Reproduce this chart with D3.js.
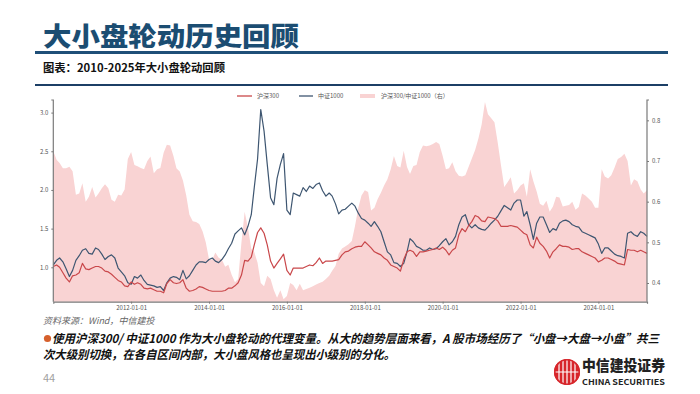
<!DOCTYPE html>
<html><head><meta charset="utf-8">
<script src="https://cdn.jsdelivr.net/npm/d3@7"></script>
<style>
html,body{margin:0;padding:0;background:#fff;}
svg{display:block;}
text{font-family:"Noto Sans CJK SC","Noto Sans",sans-serif;}
</style></head>
<body>
<svg id="c" width="700" height="394"></svg>
<script>
// ---------- data (monthly, 2010-01 .. 2025-04) ----------
const startMonth = "2010-01-01";
const monthCount = 184;
const seriesNames = ["沪深300", "中证1000", "沪深300/中证1000（右）"];
const xTickLabels = ["2012-01-01","2014-01-01","2016-01-01","2018-01-01","2020-01-01","2022-01-01","2024-01-01"];
const leftTicks = [1.0, 1.5, 2.0, 2.5, 3.0];
const rightTicks = [0.4, 0.5, 0.6, 0.7, 0.8];

const hs300 = [
1.01,1.03,1.00,0.93,0.86,0.81,0.89,0.90,0.93,1.05,
0.98,0.97,0.99,1.01,1.01,0.99,0.95,0.94,0.91,0.87,
0.83,0.81,0.76,0.75,0.81,0.78,0.80,0.78,0.73,0.72,
0.73,0.71,0.69,0.69,0.67,0.79,0.84,0.80,0.79,0.80,
0.84,0.73,0.69,0.70,0.72,0.75,0.74,0.72,0.70,0.69,
0.69,0.69,0.69,0.70,0.73,0.73,0.76,0.80,0.90,1.09,
1.08,1.13,1.29,1.45,1.51,1.44,1.29,1.08,0.99,1.05,
1.11,1.17,0.96,0.90,0.99,0.99,0.99,0.99,1.01,1.03,
1.02,1.06,1.12,1.05,1.08,1.08,1.08,1.09,1.10,1.16,
1.20,1.21,1.24,1.26,1.27,1.27,1.33,1.29,1.25,1.20,
1.18,1.16,1.12,1.09,1.03,1.01,0.99,0.95,1.10,1.20,
1.22,1.20,1.14,1.20,1.20,1.21,1.22,1.23,1.25,1.23,
1.26,1.22,1.16,1.22,1.25,1.42,1.50,1.46,1.54,1.59,
1.67,1.65,1.60,1.59,1.65,1.64,1.63,1.60,1.53,1.53,
1.53,1.54,1.53,1.52,1.48,1.44,1.42,1.29,1.25,1.39,
1.31,1.27,1.21,1.12,1.20,1.24,1.29,1.27,1.27,1.26,
1.23,1.24,1.24,1.20,1.18,1.16,1.14,1.12,1.07,1.09,
1.12,1.12,1.10,1.08,1.05,1.04,1.03,1.23,1.22,1.22,
1.20,1.22,1.20,1.18];

const csi1000 = [
1.03,1.09,1.12,1.07,0.98,0.88,0.96,1.09,1.15,1.22,
1.24,1.18,1.17,1.25,1.23,1.17,1.10,1.14,1.16,1.12,
0.99,0.94,0.89,0.80,0.78,0.88,0.86,0.90,0.83,0.78,
0.77,0.76,0.74,0.75,0.70,0.80,0.86,0.88,0.87,0.84,
0.96,0.85,0.89,0.96,1.03,1.07,1.07,1.06,1.10,1.12,
1.08,1.06,1.10,1.16,1.24,1.31,1.43,1.47,1.51,1.42,
1.53,1.68,2.03,2.40,3.04,2.76,2.33,1.90,1.81,2.15,
2.33,2.47,1.74,1.68,1.96,1.94,1.92,2.03,1.98,2.05,
2.02,2.07,2.09,1.99,1.92,1.96,1.92,1.82,1.69,1.74,
1.75,1.79,1.83,1.79,1.70,1.63,1.61,1.57,1.53,1.59,
1.53,1.46,1.33,1.20,1.16,1.06,1.05,1.01,1.05,1.20,
1.37,1.33,1.27,1.25,1.22,1.22,1.25,1.23,1.24,1.28,
1.33,1.37,1.29,1.33,1.40,1.55,1.65,1.68,1.55,1.51,
1.55,1.51,1.49,1.48,1.52,1.57,1.61,1.66,1.73,1.80,
1.77,1.74,1.83,1.87,1.87,1.66,1.72,1.55,1.36,1.57,
1.65,1.65,1.55,1.45,1.50,1.48,1.57,1.60,1.61,1.59,
1.55,1.53,1.52,1.46,1.44,1.42,1.40,1.38,1.30,1.18,
1.25,1.25,1.21,1.17,1.15,1.14,1.12,1.44,1.46,1.42,
1.40,1.46,1.44,1.40];

const ratio = [
0.724,0.703,0.695,0.682,0.682,0.686,0.675,0.617,0.620,0.645,
0.600,0.612,0.636,0.610,0.620,0.633,0.643,0.633,0.605,0.600,
0.617,0.615,0.630,0.705,0.722,0.690,0.687,0.683,0.680,0.700,
0.711,0.670,0.680,0.683,0.720,0.740,0.738,0.712,0.682,0.674,
0.652,0.615,0.568,0.552,0.550,0.545,0.527,0.500,0.458,0.458,
0.475,0.462,0.458,0.440,0.445,0.420,0.402,0.410,0.500,0.575,
0.535,0.484,0.476,0.450,0.400,0.392,0.418,0.410,0.382,0.364,
0.382,0.360,0.368,0.400,0.395,0.382,0.398,0.382,0.385,0.388,
0.392,0.396,0.400,0.403,0.410,0.418,0.430,0.442,0.472,0.485,
0.490,0.495,0.503,0.540,0.585,0.615,0.628,0.624,0.578,0.585,
0.606,0.622,0.640,0.655,0.680,0.712,0.688,0.684,0.725,0.685,
0.668,0.688,0.690,0.722,0.738,0.736,0.738,0.742,0.747,0.742,
0.713,0.680,0.682,0.697,0.675,0.664,0.662,0.665,0.686,0.706,
0.727,0.755,0.790,0.845,0.815,0.805,0.795,0.745,0.690,0.636,
0.648,0.660,0.620,0.628,0.640,0.645,0.612,0.680,0.650,0.625,
0.595,0.590,0.602,0.575,0.588,0.612,0.610,0.588,0.590,0.592,
0.600,0.580,0.587,0.620,0.615,0.608,0.600,0.585,0.585,0.680,
0.662,0.657,0.665,0.684,0.705,0.710,0.718,0.700,0.640,0.655,
0.650,0.630,0.620,0.628];

// ---------- build ----------
const parse = d3.timeParse("%Y-%m-%d");
const t0 = parse(startMonth);
const months = d3.range(monthCount).map(i => d3.timeMonth.offset(t0, i));
const rows = months.map((d, i) => ({date: d, a: hs300[i], b: csi1000[i], r: ratio[i]}));

const svg = d3.select("#c");

// header
svg.append("text").attr("x", 43).attr("y", 46)
  .attr("font-size", 26).attr("font-weight", 900).attr("fill", "#1b4d72")
  .attr("textLength", 256).attr("lengthAdjust", "spacingAndGlyphs")
  .text("大小盘轮动历史回顾");
svg.append("rect").attr("x", 35).attr("y", 51).attr("width", 633).attr("height", 3).attr("fill", "#1f4f78");
svg.append("text").attr("x", 43).attr("y", 72)
  .attr("font-size", 11).attr("font-weight", 700).attr("fill", "#111")
  .attr("textLength", 182).attr("lengthAdjust", "spacingAndGlyphs")
  .text("图表：2010-2025年大小盘轮动回顾");
svg.append("rect").attr("x", 35).attr("y", 84).attr("width", 633).attr("height", 2).attr("fill", "#1c3f66");

// chart
const x0 = 53.3, x1 = 647, yTop = 100, yBot = 301.7;
const x = d3.scaleTime().domain([months[0], months[monthCount - 1]]).range([x0, x1]);
const yL = d3.scaleLinear().domain([0.555, 3.163]).range([yBot, yTop]);
const yR = d3.scaleLinear().domain([0.354, 0.85]).range([yBot, yTop]).clamp(true);

const area = d3.area().x(d => x(d.date)).y0(yBot).y1(d => yR(d.r));
svg.append("path").datum(rows).attr("d", area).attr("fill", "#f9d3d3");

const lineA = d3.line().x(d => x(d.date)).y(d => yL(d.a));
const lineB = d3.line().x(d => x(d.date)).y(d => yL(d.b));
svg.append("path").datum(rows).attr("d", lineB).attr("fill", "none")
  .attr("stroke", "#3e5671").attr("stroke-width", 1.2).attr("stroke-linejoin", "round");
svg.append("path").datum(rows).attr("d", lineA).attr("fill", "none")
  .attr("stroke", "#c9474a").attr("stroke-width", 1.2).attr("stroke-linejoin", "round");

// axes
const axisColor = "#7a7a7a";
const fmt = d3.format(".1f");
const gL = svg.append("g").attr("transform", `translate(${x0},0)`)
  .call(d3.axisLeft(yL).tickValues(leftTicks).tickFormat(fmt).tickSize(2).tickPadding(3));
const gR = svg.append("g").attr("transform", `translate(${x1},0)`)
  .call(d3.axisRight(yR).tickValues(rightTicks).tickFormat(fmt).tickSize(2).tickPadding(3));
const gB = svg.append("g").attr("transform", `translate(0,${yBot})`)
  .call(d3.axisBottom(x).tickValues(xTickLabels.map(parse)).tickFormat(d3.timeFormat("%Y-%m-%d")).tickSize(2).tickPadding(2));
[gL, gR, gB].forEach(g => {
  g.select(".domain").attr("stroke", axisColor).attr("stroke-width", 1.2);
  g.selectAll(".tick line").attr("stroke", axisColor);
  g.selectAll(".tick text").attr("fill", "#555").attr("font-size", 6)
    .attr("font-family", "'DejaVu Sans',sans-serif");
});
gL.select(".domain").attr("d", `M-2,${yTop}H0V${yBot}`);
gR.select(".domain").attr("d", `M2,${yTop}H0V${yBot}`);

// legend
const lg = svg.append("g").attr("font-size", 6).attr("fill", "#555");
lg.append("line").attr("x1", 237).attr("x2", 252).attr("y1", 96).attr("y2", 96).attr("stroke", "#c9474a").attr("stroke-width", 1.3);
lg.append("text").attr("x", 257).attr("y", 98).text(seriesNames[0]);
lg.append("line").attr("x1", 299).attr("x2", 313).attr("y1", 96).attr("y2", 96).attr("stroke", "#3e5671").attr("stroke-width", 1.3);
lg.append("text").attr("x", 318).attr("y", 98).text(seriesNames[1]);
lg.append("rect").attr("x", 360).attr("y", 94).attr("width", 15).attr("height", 4).attr("fill", "#f9d3d3");
lg.append("text").attr("x", 381).attr("y", 98).text(seriesNames[2]);

// footer
svg.append("text").attr("x", 43).attr("y", 324).attr("font-size", 9).attr("font-style", "italic")
  .attr("fill", "#666").text("资料来源：Wind，中信建投");
svg.append("circle").attr("cx", 47.5).attr("cy", 338.5).attr("r", 3.6).attr("fill", "#d6602c");
svg.append("text").attr("x", 52).attr("y", 343).attr("font-size", 12).attr("font-weight", 700)
  .attr("font-style", "italic").attr("fill", "#111")
  .attr("textLength", 607).attr("lengthAdjust", "spacingAndGlyphs")
  .text("使用沪深300/ 中证1000 作为大小盘轮动的代理变量。从大的趋势层面来看，A 股市场经历了“小盘→大盘→小盘”共三");
svg.append("text").attr("x", 43).attr("y", 359).attr("font-size", 12).attr("font-weight", 700)
  .attr("font-style", "italic").attr("fill", "#111")
  .attr("textLength", 352).attr("lengthAdjust", "spacingAndGlyphs")
  .text("次大级别切换，在各自区间内部，大小盘风格也呈现出小级别的分化。");
svg.append("text").attr("x", 43).attr("y", 382).attr("font-size", 11).attr("fill", "#a0a0a0")
  .attr("font-family", "'Liberation Sans',sans-serif").text("44");

// logo
const logo = svg.append("g");
const clip = svg.append("defs").append("clipPath").attr("id", "lc");
clip.append("circle").attr("cx", 567).attr("cy", 372).attr("r", 13);
logo.append("circle").attr("cx", 567).attr("cy", 372).attr("r", 13).attr("fill", "#d7262b");
const lg2 = logo.append("g").attr("clip-path", "url(#lc)");
[559, 563, 567, 571, 575].forEach(cx => {
  lg2.append("line").attr("x1", cx).attr("x2", cx).attr("y1", 358).attr("y2", 386)
    .attr("stroke", "#fff").attr("stroke-width", 1.2);
});
lg2.append("line").attr("x1", 553).attr("x2", 581).attr("y1", 372).attr("y2", 372).attr("stroke", "#fff").attr("stroke-width", 1.2);
logo.append("circle").attr("cx", 567).attr("cy", 372).attr("r", 12.2).attr("fill", "none").attr("stroke", "#d7262b").attr("stroke-width", 1.6);
logo.append("text").attr("x", 582).attr("y", 371).attr("font-size", 15).attr("font-weight", 900)
  .attr("fill", "#222").attr("textLength", 83).attr("lengthAdjust", "spacingAndGlyphs").text("中信建投证券");
logo.append("text").attr("x", 582).attr("y", 384.5).attr("font-size", 8).attr("font-weight", 700)
  .attr("fill", "#222").attr("textLength", 83).attr("lengthAdjust", "spacingAndGlyphs")
  .attr("font-family", "'Liberation Sans',sans-serif").text("CHINA SECURITIES");
</script>
</body></html>
